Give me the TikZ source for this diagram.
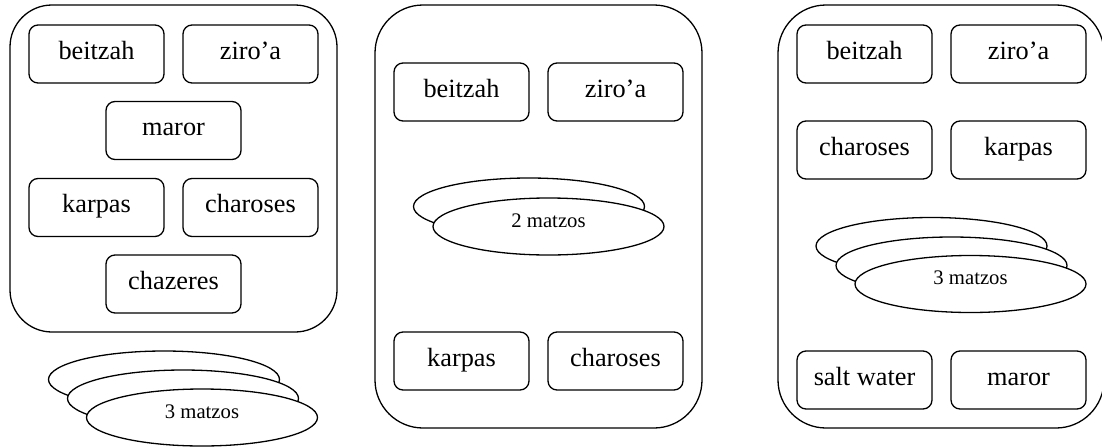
\documentclass[tikz,border=0pt]{standalone}
\usepackage{fontspec}
\setmainfont{Liberation Serif}
\usetikzlibrary{shapes.geometric}
\tikzset{
  plate/.style={draw, line width=1.3pt, rounded corners=#1, inner sep=0pt},
  item/.style={draw, line width=1.3pt, rounded corners=9pt, minimum width=135pt, minimum height=58pt, inner sep=0pt, text height=17pt, text depth=6.4pt, font=\fontsize{26.3}{30}\selectfont},
  matza/.style={draw, fill=white, ellipse, line width=1.3pt, minimum width=231pt, minimum height=57pt, inner sep=0pt, text height=7pt, text depth=6pt, font=\fontsize{20.7}{24}\selectfont}
}
\begin{document}
\begin{tikzpicture}[x=1pt,y=-1pt]
\useasboundingbox (0,0) rectangle (1102,447);
% panel 1
\node[plate=42pt, minimum width=327pt, minimum height=327pt] (P1) at (173.5,168.5) {};
\node[item] (a1) at (96.5,54) {beitzah};
\node[item] (a2) at (250.5,54) {ziro’a};
\node[item] (a3) at (173.5,130.5) {maror};
\node[item] (a4) at (96.5,207.5) {karpas};
\node[item] (a5) at (250.5,207.5) {charoses};
\node[item] (a6) at (173.5,284) {chazeres};
\node[matza] (am1) at (164,379.5) {};
\node[matza] (am2) at (183,398.5) {};
\node[matza] (am3) at (202,417.5) {3 matzos};
% panel 2
\node[plate=48pt, minimum width=327pt, minimum height=423pt] (P2) at (538.5,216.5) {};
\node[item] (b1) at (461.5,92) {beitzah};
\node[item] (b2) at (615.5,92) {ziro’a};
\node[item] (b3) at (461.5,361) {karpas};
\node[item] (b4) at (615.5,361) {charoses};
\node[matza] (bm1) at (529,206.5) {};
\node[matza] (bm2) at (548.5,226.5) {2 matzos};
% panel 3
\node[plate=48pt, minimum width=326pt, minimum height=423pt] (P3) at (941,216.5) {};
\node[item] (c1) at (864.5,54) {beitzah};
\node[item] (c2) at (1018.5,54) {ziro’a};
\node[item] (c3) at (864.5,150) {charoses};
\node[item] (c4) at (1018.5,150) {karpas};
\node[item] (c5) at (864.5,380) {salt water};
\node[item] (c6) at (1018.5,380) {maror};
\node[matza] (cm1) at (931.5,246) {};
\node[matza] (cm2) at (951.5,265.5) {};
\node[matza] (cm3) at (970.5,284) {3 matzos};
\end{tikzpicture}
\end{document}
